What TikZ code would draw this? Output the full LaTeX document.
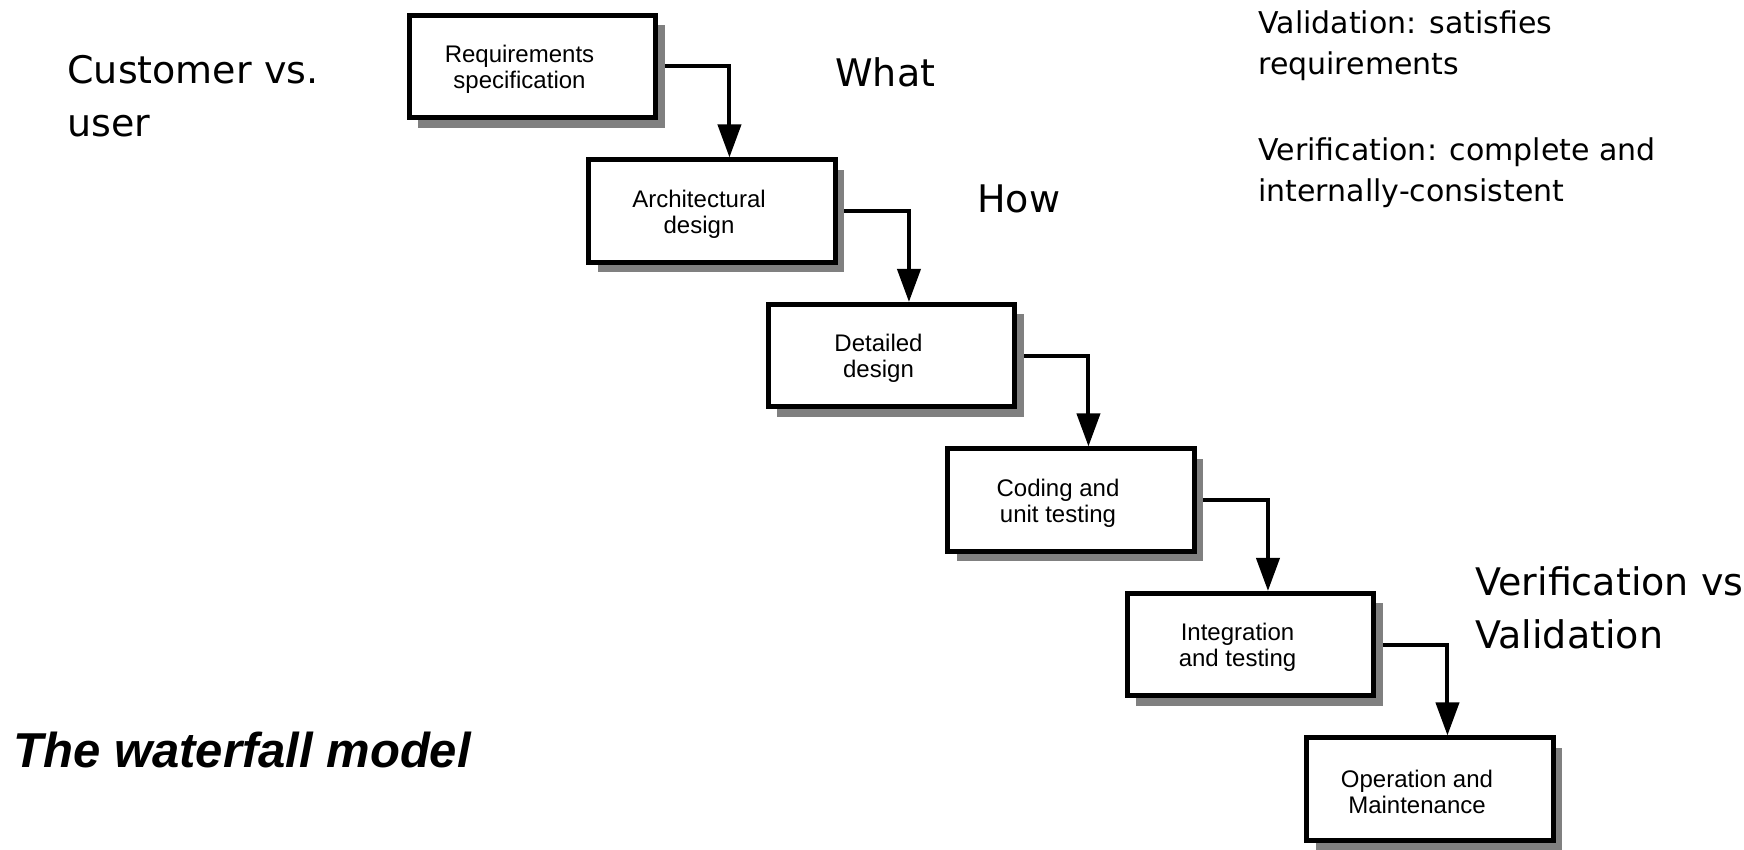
\documentclass[tikz,border=0pt]{standalone}
\usepackage{fontspec}
\setmainfont{Liberation Sans}
\newfontfamily\notefont{DejaVu Sans}
\usetikzlibrary{arrows.meta,shadows,backgrounds}

\begin{document}
\begin{tikzpicture}[x=0.5pt,y=-0.5pt,
  stage/.style={draw=black, line width=2.3pt, fill=white,
    minimum width=123.25pt, minimum height=51.25pt, inner sep=0pt,
    drop shadow={shadow xshift=4.5pt, shadow yshift=-5pt, fill=black!50, opacity=1}},
  stagetext/.style={inner sep=0pt, align=center,
    font=\fontsize{12}{13}\selectfont},
  flow/.style={line width=2pt, -{Triangle[length=16.5pt,width=11.5pt]}},
  bignote/.style={anchor=base west, inner sep=0pt, align=left,
    font=\notefont\fontsize{19}{26.5}\selectfont},
  sidenote/.style={anchor=base west, inner sep=0pt, align=left,
    font=\notefont\fontsize{15}{20.5}\selectfont}]
\useasboundingbox (0,0) rectangle (1744,850);
\clip (0,0) rectangle (1744,850);

% the six stages, stepping down to the right
\node[stage] (r1) at (532.5,66.5) {};
\node[stage] (r2) at (712,211) {};
\node[stage] (r3) at (891.5,355.5) {};
\node[stage] (r4) at (1071,500) {};
\node[stage] (r5) at (1250.5,644.5) {};
\node[stage] (r6) at (1430,789) {};

\node[stagetext] (t1) at ([shift={(-13,3)}]r1.center) {Requirements\\specification};
\node[stagetext] (t2) at ([shift={(-13,3)}]r2.center) {Architectural\\design};
\node[stagetext] (t3) at ([shift={(-13,3)}]r3.center) {Detailed\\design};
\node[stagetext] (t4) at ([shift={(-13,3)}]r4.center) {Coding and\\unit testing};
\node[stagetext] (t5) at ([shift={(-13,3)}]r5.center) {Integration\\and testing};
\node[stagetext] (t6) at ([shift={(-13,3)}]r6.center) {Operation and\\Maintenance};

% connectors run behind the shadows
\begin{pgfonlayer}{background}
\draw[flow] (r1.east) -| ([xshift=71.5pt]r2.north west);
\draw[flow] (r2.east) -| ([xshift=71.5pt]r3.north west);
\draw[flow] (r3.east) -| ([xshift=71.5pt]r4.north west);
\draw[flow] (r4.east) -| ([xshift=71.5pt]r5.north west);
\draw[flow] (r5.east) -| ([xshift=71.5pt]r6.north west);
\end{pgfonlayer}

% annotations (anchored on the baseline of their last line)
\node[bignote] (cust) at (67,137) {Customer vs.\\user};
\node[bignote] (what) at (835,87) {What};
\node[bignote] (how) at (977,213) {How};
\node[bignote] (vv) at (1475,648) {Verification vs.\\Validation};
\node[sidenote] (val) at (1258,75) {Validation: satisfies\\requirements};
\node[sidenote] (ver) at (1258,202) {Verification: complete and\\internally-consistent};

\node[anchor=base west, inner sep=0pt,
  font=\fontsize{24.5}{29}\selectfont\bfseries\itshape] (title) at (13,767) {The waterfall model};
\end{tikzpicture}
\end{document}
